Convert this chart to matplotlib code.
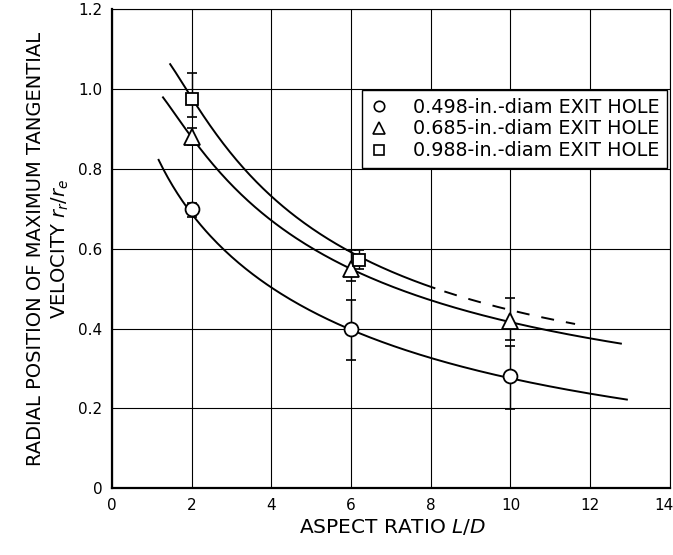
import numpy as np
import matplotlib
matplotlib.use("Agg")
import matplotlib.pyplot as plt
import matplotlib.transforms as mtransforms
from matplotlib.lines import Line2D

# Measured points (aspect ratio L/D vs r_r/r_e) for each exit-hole diameter
ld_small = [2, 6, 10]
rr_small = [0.70, 0.40, 0.28]
err_lo_small = [0.68, 0.32, 0.198]
err_hi_small = [0.715, 0.472, 0.355]

ld_mid = [2, 6, 10]
rr_mid = [0.88, 0.548, 0.42]
err_lo_mid = [0.86, 0.518, 0.372]
err_hi_mid = [0.902, 0.598, 0.477]

ld_large = [2, 6.2]
rr_large = [0.975, 0.572]
err_lo_large = [0.93, 0.55]
err_hi_large = [1.04, 0.598]

# Faired curves drawn through the data
curve_small_x = [1.17, 2.0, 2.8, 3.73, 4.9, 6.04, 7.0, 8.03, 10.07, 12.1, 12.92]
curve_small_y = [0.818, 0.70, 0.598, 0.518, 0.439, 0.397, 0.359, 0.327, 0.28, 0.234, 0.219]

curve_mid_x = [1.28, 2.0, 3.22, 4.05, 4.9, 5.91, 7.0, 8.03, 10.07, 12.1, 12.77]
curve_mid_y = [0.979, 0.88, 0.740, 0.669, 0.606, 0.548, 0.508, 0.474, 0.414, 0.374, 0.361]

curve_large_x = [1.46, 2.0, 3.27, 4.05, 4.9, 6.04, 7.0, 8.09, 10.53, 11.62]
curve_large_y = [1.065, 0.975, 0.80, 0.738, 0.66, 0.585, 0.541, 0.502, 0.435, 0.411]
large_dash_from = 8.09

legend_labels = ["0.498-in.-diam EXIT HOLE",
                 "0.685-in.-diam EXIT HOLE",
                 "0.988-in.-diam EXIT HOLE"]

x_ticks = [0, 2, 4, 6, 8, 10, 12, 14]
y_ticks = [0, 0.2, 0.4, 0.6, 0.8, 1.0, 1.2]
y_tick_labels = ["0", "0.2", "0.4", "0.6", "0.8", "1.0", "1.2"]

plt.rcParams['font.family'] = ['DejaVu Sans']

fig = plt.figure(figsize=(6.73, 5.55), dpi=100)
ax = fig.add_axes([0.1664, 0.1207, 0.829, 0.8622])


def smooth(xs, ys, n=200, lo=None, hi=None):
    lx = np.log(np.asarray(xs, float))
    ly = np.log(np.asarray(ys, float))
    c = np.polyfit(lx, ly, 3)
    a = xs[0] if lo is None else lo
    b = xs[-1] if hi is None else hi
    xx = np.linspace(a, b, n)
    return xx, np.exp(np.polyval(c, np.log(xx)))


lw_curve = 1.4
xx, yy = smooth(curve_small_x, curve_small_y)
ax.plot(xx, yy, color='black', lw=lw_curve, zorder=3)
xx, yy = smooth(curve_mid_x, curve_mid_y)
ax.plot(xx, yy, color='black', lw=lw_curve, zorder=3)
xx, yy = smooth(curve_large_x, curve_large_y, hi=large_dash_from)
ax.plot(xx, yy, color='black', lw=lw_curve, zorder=3)
xx, yy = smooth(curve_large_x, curve_large_y, lo=large_dash_from + 0.25)
ax.plot(xx, yy, color='black', lw=lw_curve, zorder=3, dashes=(6.7, 6.2))


def draw_series(x, y, lo, hi, marker, ms):
    y = np.asarray(y)
    yerr = [y - np.asarray(lo), np.asarray(hi) - y]
    ax.errorbar(x, y, yerr=yerr, fmt='none', ecolor='black', elinewidth=1.0,
                capsize=3.5, capthick=1.2, zorder=4)
    ax.plot(x, y, linestyle='none', marker=marker, ms=ms, mfc='white',
            mec='black', mew=1.3, zorder=5)


draw_series(ld_small, rr_small, err_lo_small, err_hi_small, 'o', 10)
draw_series(ld_mid, rr_mid, err_lo_mid, err_hi_mid, '^', 11)
draw_series(ld_large, rr_large, err_lo_large, err_hi_large, 's', 8.5)

ax.set_xlim(0, 14)
ax.set_ylim(0, 1.2)
ax.set_xticks(x_ticks)
ax.set_yticks(y_ticks)
ax.set_yticklabels(y_tick_labels)
ax.tick_params(length=0, labelsize=11, pad=7)
# keep the last x tick label inside the figure edge
shift = mtransforms.ScaledTranslation(-6 / 100, 0, fig.dpi_scale_trans)
last = ax.get_xticklabels()[-1]
last.set_transform(last.get_transform() + shift)
ax.grid(True, color='black', lw=0.8)
ax.set_axisbelow(True)
for side in ('left', 'bottom'):
    ax.spines[side].set_linewidth(1.6)
for side in ('top', 'right'):
    ax.spines[side].set_linewidth(0.8)

handles = [Line2D([], [], ls='none', marker=m, ms=s, mfc='white', mec='black', mew=1.2)
           for m, s in (('o', 7.5), ('^', 8.5), ('s', 7.5))]
leg = ax.legend(handles, legend_labels, loc='upper right', bbox_to_anchor=(0.995, 0.832),
                borderaxespad=0, fancybox=False, framealpha=1, edgecolor='black',
                fontsize=13.8, handletextpad=1.27, labelspacing=0.15, borderpad=0.4,
                handlelength=1.0)
leg.get_frame().set_linewidth(1.0)
leg.set_zorder(6)

fig.text(0.072, 0.551, "RADIAL POSITION OF MAXIMUM TANGENTIAL\nVELOCITY $r_r/r_e$",
         rotation=90, ha='center', va='center', multialignment='center',
         fontsize=14, linespacing=1.25)
fig.text(0.583, 0.0505, "ASPECT RATIO $L/D$", ha='center', va='center', fontsize=14.5)

fig.savefig("out.png", dpi=100)
